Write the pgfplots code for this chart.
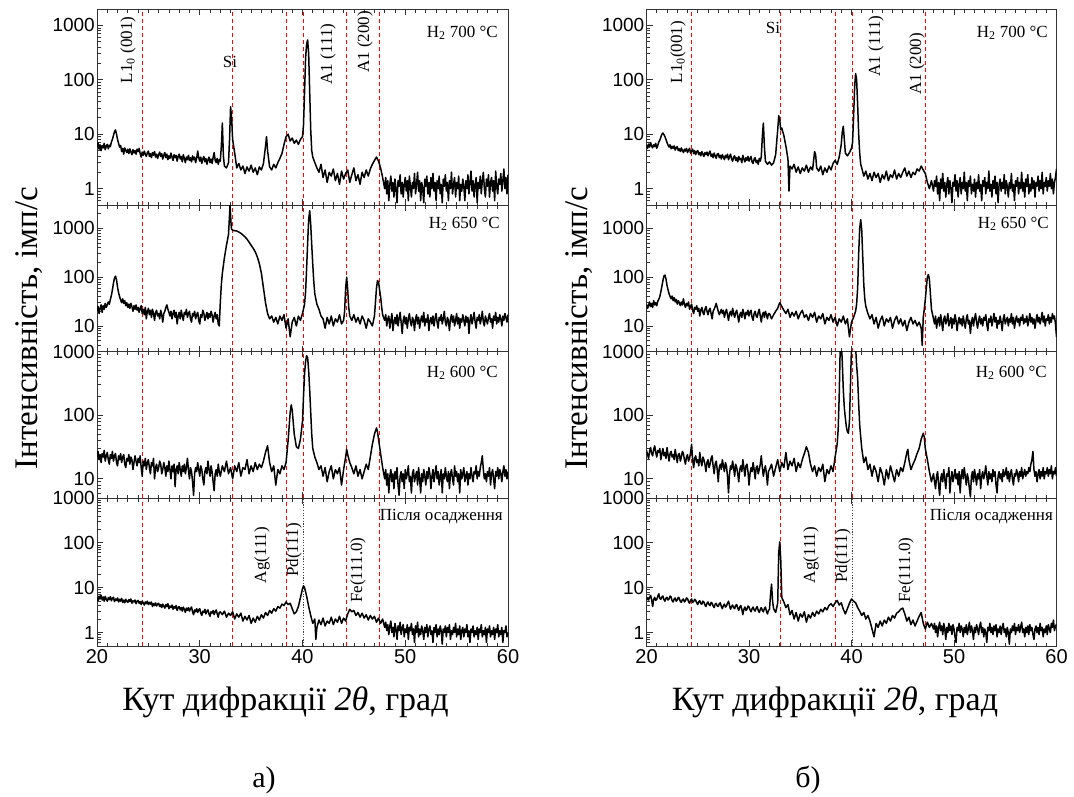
\documentclass[border=0pt]{standalone}
\usepackage{fontspec}
\setmainfont{Liberation Serif}
\newfontfamily\arial{Liberation Sans}
\usepackage{pgfplots}
\pgfplotsset{compat=1.18}
\pgfkeys{/pgf/number format/assume math mode=true}
\pgfplotsset{
 xrdbase/.style={
  scale only axis, xmin=20, xmax=60,
  axis line style={line width=1pt, black!80},
  xtick={20,30,40,50,60}, minor x tick num=9,
  xtick pos=both, ytick pos=left, tick align=inside,
  major tick length=6pt, minor tick length=3.5pt,
  every tick/.append style={black!80, line width=0.7pt},
  minor ytick={0.5,0.6,0.7,0.8,0.9,2,3,4,5,6,7,8,9,20,30,40,50,60,70,80,90,200,300,400,500,600,700,800,900,2000,3000},
  yticklabel style={font=\arial\fontsize{19}{19}\selectfont, inner xsep=2pt},
  xticklabel style={font=\arial\fontsize{20}{20}\selectfont},
  extra x tick style={grid=major, major tick length=0pt},
  major grid style={red, dash pattern=on 4pt off 3pt, line width=0.9pt},
 },
 xrdline/.style={black, line width=1.5pt, line join=round, mark=none},
 atL/.style={at={(97pt,#1)}, anchor=north west, width=411pt},
 atR/.style={at={(646.5pt,#1)}, anchor=north west, width=410pt},
 redL/.style={extra x ticks={24.4,33.15,38.4,40.1,44.3,47.5}, extra x tick labels={}},
 redLb/.style={extra x ticks={24.4,33.15,38.4,44.3,47.5}, extra x tick labels={}},
 redR/.style={extra x ticks={24.4,33.1,38.4,40.1,47.2}, extra x tick labels={}},
 redRb/.style={extra x ticks={24.4,33.1,38.4,47.2}, extra x tick labels={}},
 pnlA/.style={height=196pt, ymin=0.5, ymax=2000, ytick={1,10,100,1000}, yticklabels={1,10,100,1000}, xticklabels={}},
 pnlB/.style={height=146.5pt, ymin=3, ymax=3000, ytick={10,100,1000}, yticklabels={10,100,1000}, xticklabels={}},
 pnlC/.style={height=146.5pt, ymin=5, ymax=1000, ytick={10,100,1000}, yticklabels={10,100,1000}, xticklabels={}},
 pnlD/.style={height=148pt, ymin=0.5, ymax=1000, ytick={1,10,100,1000}, yticklabels={1,10,100,1000}, xticklabels={20,30,40,50,60}},
}
\begin{document}
\begin{tikzpicture}
\useasboundingbox (0pt,0pt) rectangle (1074pt,-796pt);
% ---------------- left column ----------------
\begin{axis}[ymode=log, xrdbase, atL=-9pt, redL, pnlA]
\addplot[xrdline] coordinates {(20.0,5.8)(20.1,6.9)(20.2,5.3)(20.3,6.4)(20.4,5.0)(20.5,6.2)(20.6,5.6)(20.7,6.8)(20.8,5.2)(20.9,6.0)(21.0,6.5)(21.1,5.4)(21.2,6.3)(21.3,5.9)(21.4,7.2)(21.5,8.0)(21.6,9.5)(21.7,11)(21.8,12)(21.9,10)(22.0,8.0)(22.1,6.8)(22.2,5.8)(22.3,6.2)(22.4,4.8)(22.5,5.5)(22.6,4.3)(22.7,5.6)(22.8,5.0)(22.9,4.6)(23.0,5.3)(23.1,4.4)(23.2,5.4)(23.3,4.7)(23.4,4.2)(23.5,5.2)(23.6,4.5)(23.7,5.0)(23.8,4.3)(23.9,5.3)(24.0,4.8)(24.1,5.5)(24.2,4.4)(24.3,3.8)(24.4,4.7)(24.5,4.1)(24.6,4.9)(24.7,4.3)(24.8,3.9)(24.9,4.6)(25.0,4.9)(25.1,3.9)(25.2,4.4)(25.3,3.7)(25.4,4.6)(25.5,4.1)(25.6,4.8)(25.7,3.8)(25.8,4.3)(25.9,3.6)(26.0,4.2)(26.1,4.7)(26.2,3.9)(26.3,4.4)(26.4,3.5)(26.5,4.1)(26.6,4.6)(26.7,3.7)(26.8,4.3)(26.9,3.4)(27.0,4.0)(27.1,3.6)(27.2,4.5)(27.3,3.8)(27.4,3.3)(27.5,4.2)(27.6,3.7)(27.7,4.1)(27.8,3.2)(27.9,3.9)(28.0,4.3)(28.1,3.5)(28.2,3.9)(28.3,3.1)(28.4,4.2)(28.5,3.6)(28.6,3.0)(28.7,3.8)(28.8,3.4)(28.9,4.1)(29.0,3.3)(29.1,3.7)(29.2,3.1)(29.3,4.0)(29.4,3.4)(29.5,3.8)(29.6,3.0)(29.7,3.6)(29.8,4.9)(29.9,3.7)(30.0,3.2)(30.1,3.8)(30.2,2.9)(30.3,3.5)(30.4,3.9)(30.5,3.1)(30.6,3.6)(30.7,2.8)(30.8,3.4)(30.9,3.8)(31.0,3.0)(31.1,3.5)(31.2,2.9)(31.3,3.7)(31.4,4.6)(31.5,3.3)(31.6,3.0)(31.7,3.6)(31.8,2.8)(31.9,3.4)(32.0,3.2)
(32.1,6)(32.2,16)(32.3,4)(32.4,2.6)(32.6,2.4)(32.8,3.0)(32.9,8)(33.0,32)(33.1,20)(33.2,8)(33.4,4.5)(33.6,2.4)(33.8,2.9)(34.0,2.2)(34.2,2.6)(34.4,1.9)(34.6,2.5)(34.8,2.1)(35.0,2.7)(35.2,2.0)(35.4,2.4)(35.6,1.8)(35.8,2.5)(36.0,2.2)(36.2,2.9)(36.4,6)(36.5,9)(36.6,5)(36.8,2.5)(37.0,2.2)(37.2,2.8)(37.4,2.4)(37.6,3.0)(37.8,3.6)(38.0,4.4)(38.2,6.5)(38.4,9)(38.6,10)(38.8,7.5)(39.0,8.5)(39.2,6.8)(39.4,7.8)(39.6,6.5)(39.8,8.0)(40.0,9)(40.1,15)(40.2,60)(40.3,250)(40.4,450)(40.5,540)(40.6,300)(40.7,60)(40.8,12)(40.9,5)(41.0,3.8)(41.2,3.0)(41.4,2.4)(41.6,2.0)(41.8,2.8)(42.0,1.6)(42.2,2.2)(42.4,1.3)(42.6,2.0)(42.8,1.7)(43.0,2.3)(43.2,1.4)(43.4,1.9)(43.6,1.2)(43.8,2.1)(44.0,1.5)(44.2,1.9)(44.4,2.2)(44.6,1.3)(44.8,1.8)(45.0,2.4)(45.2,1.4)(45.4,1.8)(45.6,1.2)(45.8,2.0)(46.0,1.6)(46.2,2.2)(46.4,1.7)(46.6,2.3)(46.8,2.8)(47.0,3.3)(47.2,3.8)(47.4,3.2)(47.6,2.4)(47.8,1.6)
(48.0,1.0)(48.1,1.6)(48.2,0.8)(48.3,1.4)(48.4,0.6)(48.5,1.2)(48.6,1.7)(48.7,0.9)(48.8,1.3)(48.9,0.7)(49.0,1.5)(49.1,1.0)(49.2,0.55)(49.3,1.4)(49.4,1.1)(49.5,1.8)(49.6,0.8)(49.7,1.3)(49.8,0.7)(49.9,1.2)(50.0,1.6)(50.1,0.9)(50.2,1.4)(50.3,0.6)(50.4,1.7)(50.5,1.1)(50.6,0.7)(50.7,1.3)(50.8,1.0)(50.9,1.9)(51.0,0.8)(51.1,1.2)(51.2,2.0)(51.3,0.9)(51.4,1.4)(51.5,0.6)(51.6,1.3)(51.7,1.0)(51.8,0.55)(51.9,1.5)(52.0,1.1)(52.1,1.7)(52.2,0.8)(52.3,1.3)(52.4,0.7)(52.5,1.6)(52.6,1.0)(52.7,1.9)(52.8,0.9)(52.9,1.3)(53.0,0.6)(53.1,1.4)(53.2,1.0)(53.3,1.7)(53.4,0.8)(53.5,1.2)(53.6,0.55)(53.7,1.5)(53.8,1.1)(53.9,1.8)(54.0,0.9)(54.1,1.3)(54.2,0.6)(54.3,1.4)(54.4,1.0)(54.5,2.0)(54.6,0.8)(54.7,1.2)(54.8,1.6)(54.9,0.7)(55.0,1.3)(55.1,1.0)(55.2,1.7)(55.3,0.6)(55.4,1.2)(55.5,0.9)(55.6,1.5)(55.7,1.1)(55.8,0.6)(55.9,1.4)(56.0,1.0)(56.1,1.8)(56.2,0.8)(56.3,1.3)(56.4,2.1)(56.5,0.9)(56.6,1.4)(56.7,0.7)(56.8,1.2)(56.9,1.6)(57.0,0.55)(57.1,1.3)(57.2,1.0)(57.3,1.7)(57.4,0.8)(57.5,1.4)(57.6,2.0)(57.7,1.0)(57.8,0.7)(57.9,1.5)(58.0,1.1)(58.1,1.8)(58.2,0.7)(58.3,1.3)(58.4,1.6)(58.5,0.9)(58.6,1.4)(58.7,0.6)(58.8,2.1)(58.9,1.1)(59.0,0.8)(59.1,1.5)(59.2,1.2)(59.3,1.9)(59.4,0.9)(59.5,1.4)(59.6,2.3)(59.7,1.0)(59.8,1.6)(59.9,0.8)(60.0,1.8)};
\end{axis}
\begin{axis}[ymode=log, xrdbase, atL=-205pt, redL, pnlB]
\addplot[xrdline] coordinates {(20.0,20)(20.1,25)(20.2,18)(20.3,23)(20.4,27)(20.5,19)(20.6,26)(20.7,22)(20.8,29)(20.9,24)(21.0,27)(21.1,31)(21.2,28)(21.3,35)(21.4,42)(21.5,55)(21.6,75)(21.7,95)(21.8,105)(21.9,88)(22.0,62)(22.1,48)(22.2,40)(22.3,34)(22.4,30)(22.5,36)(22.6,29)(22.7,33)(22.8,26)(22.9,30)(23.0,24)(23.1,28)(23.2,23)(23.3,29)(23.4,25)(23.5,20)(23.6,26)(23.7,22)(23.8,27)(23.9,21)(24.0,24)(24.1,19)(24.2,23)(24.3,26)(24.4,18)(24.5,22)(24.6,17)(24.7,24)(24.8,14)(24.9,20)(25.0,23)(25.1,17)(25.2,21)(25.3,15)(25.4,22)(25.5,18)(25.6,13)(25.7,19)(25.8,21)(25.9,16)(26.0,18)(26.1,14)(26.2,21)(26.3,17)(26.4,12)(26.5,18)(26.6,20)(26.7,24)(26.8,27)(26.9,22)(27.0,19)(27.1,16)(27.2,20)(27.3,14)(27.4,18)(27.5,21)(27.6,15)(27.7,19)(27.8,11)(27.9,16)(28.0,19)(28.1,14)(28.2,21)(28.3,16)(28.4,13)(28.5,19)(28.6,17)(28.7,22)(28.8,15)(28.9,18)(29.0,20)(29.1,14)(29.2,12)(29.3,18)(29.4,16)(29.5,20)(29.6,14)(29.7,17)(29.8,19)(29.9,13)(30.0,11)(30.1,17)(30.2,15)(30.3,21)(30.4,18)(30.5,13)(30.6,16)(30.7,19)(30.8,14)(30.9,18)(31.0,15)(31.1,20)(31.2,17)(31.3,12)(31.4,16)(31.5,19)(31.6,14)(31.7,17)(31.8,11)(31.9,10)
(32.0,30)(32.1,70)(32.2,120)(32.4,250)(32.6,450)(32.8,750)(32.95,3000)(33.05,1200)(33.1,950)(33.3,900)(33.6,880)(33.8,840)(34.0,790)(34.2,730)(34.4,670)(34.6,600)(34.8,520)(35.0,450)(35.2,390)(35.4,330)(35.6,260)(35.8,190)(36.0,120)(36.2,60)(36.4,30)(36.6,18)(36.8,14)(37.0,16)(37.2,12)(37.4,15)(37.6,11)(37.8,16)(38.0,13)(38.2,17)(38.4,9)(38.6,14)(38.8,6)(39.0,12)(39.2,15)(39.4,10)(39.6,16)(39.8,13)(40.0,18)(40.2,28)(40.3,50)(40.4,150)(40.5,500)(40.6,1500)(40.7,2300)(40.8,1200)(40.9,450)(41.0,180)(41.1,80)(41.2,45)(41.4,28)(41.6,22)(41.8,16)(42.0,14)(42.2,9)(42.4,15)(42.6,11)(42.8,16)(43.0,10)(43.2,14)(43.4,12)(43.6,17)(43.8,11)(44.0,13)(44.1,20)(44.2,60)(44.3,100)(44.4,55)(44.5,24)(44.6,16)(44.8,13)(45.0,17)(45.2,12)(45.4,15)(45.6,11)(45.8,16)(46.0,13)(46.2,9)(46.4,14)(46.6,12)(46.8,10)(47.0,16)(47.1,30)(47.2,60)(47.3,85)(47.4,80)(47.5,55)(47.6,40)(47.7,25)(47.8,17)
(48.0,13)(48.1,17)(48.2,10)(48.3,14)(48.4,16)(48.5,9)(48.6,13)(48.7,18)(48.8,8)(48.9,12)(49.0,15)(49.1,11)(49.2,17)(49.3,10)(49.4,14)(49.5,19)(49.6,12)(49.7,7)(49.8,13)(49.9,16)(50.0,11)(50.1,15)(50.2,9)(50.3,14)(50.4,18)(50.5,12)(50.6,10)(50.7,15)(50.8,13)(50.9,8)(51.0,14)(51.1,17)(51.2,11)(51.3,15)(51.4,9)(51.5,13)(51.6,16)(51.7,12)(51.8,19)(51.9,10)(52.0,14)(52.1,12)(52.2,17)(52.3,8)(52.4,13)(52.5,15)(52.6,11)(52.7,16)(52.8,10)(52.9,14)(53.0,18)(53.1,12)(53.2,9)(53.3,15)(53.4,13)(53.5,17)(53.6,11)(53.7,14)(53.8,20)(53.9,12)(54.0,10)(54.1,15)(54.2,13)(54.3,8)(54.4,14)(54.5,17)(54.6,12)(54.7,16)(54.8,10)(54.9,13)(55.0,18)(55.1,11)(55.2,15)(55.3,9)(55.4,14)(55.5,12)(55.6,17)(55.7,13)(55.8,10)(55.9,16)(56.0,12)(56.1,15)(56.2,7)(56.3,13)(56.4,17)(56.5,11)(56.6,14)(56.7,19)(56.8,12)(56.9,9)(57.0,15)(57.1,13)(57.2,17)(57.3,11)(57.4,14)(57.5,20)(57.6,12)(57.7,10)(57.8,16)(57.9,13)(58.0,11)(58.1,15)(58.2,18)(58.3,12)(58.4,14)(58.5,9)(58.6,16)(58.7,13)(58.8,19)(58.9,11)(59.0,15)(59.1,12)(59.2,17)(59.3,14)(59.4,10)(59.5,16)(59.6,13)(59.7,18)(59.8,15)(59.9,12)(60.0,17)};
\end{axis}
\begin{axis}[ymode=log, xrdbase, atL=-351.5pt, redL, pnlC]
\addplot[xrdline] coordinates {(20.0,22)(20.1,27)(20.2,20)(20.3,24)(20.4,18)(20.5,25)(20.6,22)(20.7,28)(20.8,19)(20.9,23)(21.0,26)(21.1,20)(21.2,17)(21.3,24)(21.4,21)(21.5,27)(21.6,19)(21.7,23)(21.8,25)(21.9,18)(22.0,16)(22.1,23)(22.2,20)(22.3,25)(22.4,18)(22.5,22)(22.6,24)(22.7,17)(22.8,15)(22.9,21)(23.0,19)(23.1,24)(23.2,17)(23.3,22)(23.4,20)(23.5,14)(23.6,18)(23.7,23)(23.8,19)(23.9,16)(24.0,21)(24.1,18)(24.2,23)(24.3,15)(24.4,11)(24.5,19)(24.6,16)(24.7,21)(24.8,14)(24.9,18)(25.0,20)(25.1,15)(25.2,12)(25.3,18)(25.4,16)(25.5,21)(25.6,10)(25.7,15)(25.8,17)(25.9,13)(26.0,15)(26.1,19)(26.2,17)(26.3,12)(26.4,14)(26.5,18)(26.6,15)(26.7,11)(26.8,16)(26.9,13)(27.0,19)(27.1,14)(27.2,10)(27.3,16)(27.4,13)(27.5,17)(27.6,7.5)(27.7,14)(27.8,16)(27.9,12)(28.0,18)(28.1,14)(28.2,11)(28.3,16)(28.4,13)(28.5,17)(28.6,12)(28.7,15)(28.8,21)(28.9,14)(29.0,10)(29.1,15)(29.2,13)(29.3,9)(29.4,5.5)(29.5,12)(29.6,15)(29.7,13)(29.8,18)(29.9,14)(30.0,11)(30.1,16)(30.2,14)(30.3,10)(30.4,8)(30.5,13)(30.6,15)(30.7,12)(30.8,19)(30.9,14)(31.0,11)(31.1,16)(31.2,13)(31.3,9)(31.4,6.5)(31.5,12)(31.6,14)(31.7,11)(31.8,17)(31.9,13)
(32.0,11)(32.2,16)(32.4,13)(32.6,19)(32.8,12)(33.0,15)(33.2,10)(33.4,16)(33.6,13)(33.8,18)(34.0,11)(34.2,15)(34.4,14)(34.6,20)(34.8,12)(35.0,16)(35.2,13)(35.4,18)(35.6,14)(35.8,17)(36.0,15)(36.2,19)(36.4,26)(36.6,33)(36.8,18)(37.0,13)(37.2,16)(37.4,8)(37.6,14)(37.8,12)(38.0,16)(38.2,14)(38.4,18)(38.6,40)(38.8,110)(38.9,145)(39.0,120)(39.2,50)(39.4,32)(39.6,30)(39.8,42)(40.0,80)(40.1,200)(40.2,450)(40.3,700)(40.4,860)(40.5,800)(40.6,500)(40.7,250)(40.8,110)(40.9,50)(41.0,30)(41.2,22)(41.4,18)(41.6,14)(41.8,16)(42.0,11)(42.2,15)(42.4,9)(42.6,13)(42.8,16)(43.0,10)(43.2,14)(43.4,12)(43.6,15)(43.8,8)(44.0,14)(44.2,22)(44.3,29)(44.4,24)(44.6,18)(44.8,15)(45.0,12)(45.2,16)(45.4,11)(45.6,14)(45.8,10)(46.0,13)(46.2,17)(46.4,14)(46.6,22)(46.8,35)(47.0,50)(47.2,63)(47.3,55)(47.4,42)(47.6,25)(47.8,15)
(48.0,10)(48.1,14)(48.2,8)(48.3,12)(48.4,6)(48.5,11)(48.6,14)(48.7,9)(48.8,12)(48.9,7)(49.0,13)(49.1,10)(49.2,15)(49.3,8)(49.4,5.5)(49.5,11)(49.6,13)(49.7,9)(49.8,12)(49.9,7)(50.0,14)(50.1,10)(50.2,12)(50.3,16)(50.4,9)(50.5,11)(50.6,6)(50.7,12)(50.8,14)(50.9,9)(51.0,11)(51.1,13)(51.2,8)(51.3,15)(51.4,10)(51.5,6)(51.6,12)(51.7,9)(51.8,14)(51.9,11)(52.0,8)(52.1,13)(52.2,10)(52.3,15)(52.4,12)(52.5,7)(52.6,11)(52.7,14)(52.8,9)(52.9,12)(53.0,16)(53.1,10)(53.2,13)(53.3,8)(53.4,11)(53.5,14)(53.6,6)(53.7,12)(53.8,10)(53.9,15)(54.0,11)(54.1,9)(54.2,13)(54.3,7)(54.4,12)(54.5,14)(54.6,10)(54.7,8)(54.8,16)(54.9,11)(55.0,13)(55.1,9)(55.2,12)(55.3,6)(55.4,14)(55.5,10)(55.6,12)(55.7,15)(55.8,9)(55.9,11)(56.0,13)(56.1,8)(56.2,12)(56.3,10)(56.4,15)(56.5,11)(56.6,9)(56.7,13)(56.8,12)(56.9,16)(57.0,10)(57.1,13)(57.2,11)(57.3,15)(57.4,18)(57.5,23)(57.6,14)(57.7,10)(57.8,12)(57.9,9)(58.0,13)(58.1,11)(58.2,15)(58.3,8)(58.4,12)(58.5,14)(58.6,10)(58.7,7)(58.8,13)(58.9,11)(59.0,15)(59.1,10)(59.2,14)(59.3,12)(59.4,9)(59.5,13)(59.6,16)(59.7,11)(59.8,14)(59.9,10)(60.0,13)};
\end{axis}
\begin{axis}[ymode=log, xrdbase, atL=-498pt, redLb, pnlD]
\draw[black!75, dash pattern=on 1.2pt off 1.5pt, line width=1pt] (axis cs:40.1,0.5) -- (axis cs:40.1,1000);
\addplot[xrdline] coordinates {(20.0,6.0)(20.1,5.1)(20.2,6.5)(20.3,5.6)(20.4,6.8)(20.5,5.3)(20.6,6.2)(20.7,5.0)(20.8,6.4)(20.9,5.5)(21.0,5.0)(21.1,6.0)(21.2,5.4)(21.3,6.3)(21.4,5.1)(21.5,5.8)(21.6,6.1)(21.7,4.9)(21.8,5.6)(21.9,5.2)(22.0,5.9)(22.1,4.8)(22.2,5.5)(22.3,5.0)(22.4,5.8)(22.5,4.7)(22.6,5.3)(22.7,4.6)(22.8,5.5)(22.9,5.0)(23.0,4.7)(23.1,5.4)(23.2,4.9)(23.3,5.6)(23.4,4.5)(23.5,5.1)(23.6,4.8)(23.7,5.3)(23.8,4.4)(23.9,5.0)(24.0,5.2)(24.1,4.5)(24.2,4.9)(24.3,4.2)(24.4,5.0)(24.5,4.6)(24.6,4.1)(24.7,4.8)(24.8,4.4)(24.9,5.0)(25.0,4.2)(25.1,4.7)(25.2,4.3)(25.3,4.8)(25.4,3.8)(25.5,4.4)(25.6,4.0)(25.7,4.6)(25.8,3.9)(25.9,4.3)(26.0,4.5)(26.1,3.8)(26.2,4.2)(26.3,3.6)(26.4,4.3)(26.5,3.9)(26.6,3.5)(26.7,4.2)(26.8,3.8)(26.9,4.4)(27.0,3.4)(27.1,3.9)(27.2,3.6)(27.3,4.1)(27.4,3.3)(27.5,3.8)(27.6,3.5)(27.7,4.0)(27.8,3.1)(27.9,3.6)(28.0,3.8)(28.1,3.2)(28.2,3.6)(28.3,3.0)(28.4,3.7)(28.5,3.3)(28.6,2.8)(28.7,3.5)(28.8,3.1)(28.9,3.6)(29.0,3.0)(29.1,3.4)(29.2,3.7)(29.3,2.9)(29.4,2.5)(29.5,3.2)(29.6,2.9)(29.7,3.4)(29.8,2.8)(29.9,3.2)(30.0,3.4)(30.1,2.7)(30.2,2.4)(30.3,3.0)(30.4,2.8)(30.5,3.3)(30.6,2.6)(30.7,3.0)(30.8,3.2)(30.9,2.6)(31.0,2.3)(31.1,2.9)(31.2,2.7)(31.3,3.1)(31.4,2.5)(31.5,2.9)(31.6,3.2)(31.7,2.6)(31.8,2.2)(31.9,2.8)
(32.0,2.9)(32.2,2.5)(32.4,3.0)(32.6,2.2)(32.8,2.7)(33.0,2.4)(33.2,2.9)(33.4,2.0)(33.6,2.6)(33.8,2.2)(34.0,2.7)(34.2,1.8)(34.4,2.3)(34.6,1.9)(34.8,2.4)(35.0,1.6)(35.2,2.1)(35.4,1.7)(35.6,2.3)(35.8,1.9)(36.0,2.5)(36.2,2.1)(36.4,2.8)(36.6,2.4)(36.8,3.1)(37.0,2.7)(37.2,3.4)(37.4,3.0)(37.6,3.8)(37.8,3.5)(38.0,4.3)(38.2,4.0)(38.4,4.8)(38.6,4.2)(38.8,4.5)(39.0,3.4)(39.2,2.6)(39.4,2.9)(39.6,3.8)(39.8,6.0)(40.0,9.5)(40.1,11)(40.2,10)(40.4,6.5)(40.6,3.8)(40.8,2.4)(41.0,1.6)(41.2,2.0)(41.3,0.7)(41.4,1.3)(41.6,1.9)(41.8,1.5)(42.0,2.1)(42.2,1.4)(42.4,1.8)(42.6,1.6)(42.8,2.2)(43.0,1.5)(43.2,2.0)(43.4,1.7)(43.6,2.3)(43.8,1.6)(44.0,2.1)(44.2,1.8)(44.4,2.6)(44.6,3.3)(44.8,2.9)(45.0,3.1)(45.2,2.4)(45.4,2.8)(45.6,2.2)(45.8,2.7)(46.0,2.1)(46.2,2.5)(46.4,1.9)(46.6,2.4)(46.8,2.0)(47.0,2.3)(47.2,1.7)(47.4,2.1)(47.6,1.6)(47.8,2.0)
(48.0,1.3)(48.1,1.7)(48.2,1.1)(48.3,1.5)(48.4,0.9)(48.5,1.4)(48.6,1.8)(48.7,1.0)(48.8,1.3)(48.9,0.8)(49.0,1.6)(49.1,1.2)(49.2,0.7)(49.3,1.4)(49.4,1.1)(49.5,1.7)(49.6,0.9)(49.7,1.3)(49.8,1.5)(49.9,0.8)(50.0,1.2)(50.1,1.0)(50.2,1.5)(50.3,0.7)(50.4,1.3)(50.5,1.1)(50.6,1.6)(50.7,0.9)(50.8,1.2)(50.9,0.6)(51.0,1.4)(51.1,1.0)(51.2,1.7)(51.3,0.8)(51.4,1.2)(51.5,0.9)(51.6,1.4)(51.7,1.1)(51.8,0.7)(51.9,1.3)(52.0,1.0)(52.1,1.5)(52.2,0.8)(52.3,1.2)(52.4,1.4)(52.5,0.9)(52.6,1.1)(52.7,0.6)(52.8,1.3)(52.9,1.0)(53.0,1.5)(53.1,0.8)(53.2,1.2)(53.3,0.9)(53.4,1.4)(53.5,1.1)(53.6,0.55)(53.7,1.2)(53.8,1.0)(53.9,1.4)(54.0,0.8)(54.1,1.3)(54.2,1.0)(54.3,1.5)(54.4,0.7)(54.5,1.1)(54.6,0.9)(54.7,1.3)(54.8,1.0)(54.9,1.6)(55.0,0.8)(55.1,1.2)(55.2,0.9)(55.3,1.4)(55.4,0.7)(55.5,1.1)(55.6,1.3)(55.7,0.8)(55.8,1.2)(55.9,1.0)(56.0,1.5)(56.1,0.8)(56.2,1.1)(56.3,0.6)(56.4,1.2)(56.5,1.0)(56.6,1.4)(56.7,0.8)(56.8,1.1)(56.9,0.9)(57.0,1.3)(57.1,0.7)(57.2,1.2)(57.3,1.0)(57.4,1.5)(57.5,0.8)(57.6,1.1)(57.7,0.9)(57.8,1.3)(57.9,0.6)(58.0,1.2)(58.1,1.0)(58.2,1.4)(58.3,0.8)(58.4,1.1)(58.5,0.9)(58.6,1.3)(58.7,0.7)(58.8,1.2)(58.9,1.0)(59.0,1.5)(59.1,0.8)(59.2,1.1)(59.3,0.9)(59.4,1.3)(59.5,0.6)(59.6,1.1)(59.7,1.0)(59.8,1.4)(59.9,0.8)(60.0,1.0)};
\end{axis}
% ---------------- right column ----------------
\begin{axis}[ymode=log, xrdbase, atR=-9pt, redR, pnlA]
\addplot[xrdline] coordinates {(20.0,6.3)(20.1,5.5)(20.2,6.6)(20.3,5.8)(20.4,7.0)(20.5,6.1)(20.6,5.6)(20.7,6.4)(20.8,5.9)(20.9,6.8)(21.0,5.5)(21.1,6.2)(21.2,7.2)(21.3,7.8)(21.4,8.8)(21.5,10)(21.6,10.5)(21.7,9.8)(21.8,9.0)(21.9,8.0)(22.0,7.0)(22.1,6.3)(22.2,5.8)(22.3,6.4)(22.4,5.4)(22.5,6.0)(22.6,5.5)(22.7,6.1)(22.8,5.1)(22.9,5.7)(23.0,5.9)(23.1,5.0)(23.2,5.4)(23.3,4.8)(23.4,5.6)(23.5,5.0)(23.6,4.6)(23.7,5.3)(23.8,4.9)(23.9,5.5)(24.0,4.6)(24.1,5.1)(24.2,5.5)(24.3,4.5)(24.4,4.9)(24.5,5.3)(24.6,4.4)(24.7,5.0)(24.8,4.2)(24.9,4.8)(25.0,5.0)(25.1,4.2)(25.2,4.6)(25.3,4.0)(25.4,4.8)(25.5,4.3)(25.6,3.9)(25.7,4.6)(25.8,4.2)(25.9,4.7)(26.0,4.0)(26.1,4.5)(26.2,4.9)(26.3,3.9)(26.4,4.3)(26.5,3.7)(26.6,4.5)(26.7,4.0)(26.8,3.6)(26.9,4.3)(27.0,4.4)(27.1,3.7)(27.2,4.1)(27.3,3.5)(27.4,4.2)(27.5,3.8)(27.6,3.4)(27.7,4.1)(27.8,3.7)(27.9,4.3)(28.0,3.4)(28.1,3.9)(28.2,4.3)(28.3,3.5)(28.4,3.2)(28.5,3.8)(28.6,4.0)(28.7,3.3)(28.8,3.7)(28.9,3.1)(29.0,3.9)(29.1,3.4)(29.2,3.6)(29.3,3.0)(29.4,4.1)(29.5,3.5)(29.6,3.1)(29.7,3.7)(29.8,3.3)(29.9,3.9)(30.0,3.2)(30.1,3.6)(30.2,3.9)(30.3,3.1)(30.4,2.9)(30.5,3.5)(30.6,3.7)(30.7,3.0)(30.8,3.3)(30.9,2.8)(31.0,3.6)(31.1,3.2)(31.2,3.9)
(31.3,9)(31.4,16)(31.5,6)(31.6,3.2)(31.8,2.8)(32.0,3.1)(32.2,2.7)(32.4,3.0)(32.6,4.2)(32.8,12)(32.9,22)(33.0,18)(33.1,12)(33.2,13)(33.3,11)(33.4,9.5)(33.6,6.0)(33.8,3.5)(33.9,0.9)(34.0,2.6)(34.2,2.3)(34.4,2.8)(34.6,2.0)(34.8,2.5)(35.0,1.9)(35.2,2.4)(35.4,2.1)(35.6,2.7)(35.8,2.0)(36.0,2.5)(36.2,2.2)(36.4,4.8)(36.5,4.2)(36.6,2.4)(36.8,2.1)(37.0,2.6)(37.2,1.8)(37.4,2.4)(37.6,2.0)(37.8,2.6)(38.0,2.2)(38.2,2.9)(38.4,3.3)(38.6,2.8)(38.8,3.8)(39.0,6.5)(39.1,11)(39.2,14)(39.3,8)(39.4,4.5)(39.6,4.0)(39.8,4.6)(40.0,5.5)(40.1,7)(40.2,20)(40.3,70)(40.4,130)(40.5,100)(40.6,35)(40.7,10)(40.8,4.5)(40.9,2.8)(41.0,2.4)(41.2,1.7)(41.4,2.1)(41.6,1.5)(41.8,1.9)(42.0,1.4)(42.2,2.0)(42.4,1.6)(42.6,1.9)(42.8,1.3)(43.0,1.8)(43.2,1.5)(43.4,2.1)(43.6,1.4)(43.8,1.8)(44.0,1.6)(44.2,2.2)(44.4,1.5)(44.6,1.9)(44.8,1.6)(45.0,2.0)(45.2,2.4)(45.4,1.7)(45.6,2.1)(45.8,1.6)(46.0,2.0)(46.2,1.8)(46.4,2.3)(46.6,2.1)(46.8,2.6)(47.0,2.2)(47.2,1.9)(47.4,1.3)(47.6,1.0)(47.8,1.4)
(48.0,0.9)(48.1,1.4)(48.2,1.1)(48.3,1.7)(48.4,0.8)(48.5,1.3)(48.6,0.6)(48.7,1.5)(48.8,1.0)(48.9,1.9)(49.0,0.9)(49.1,1.3)(49.2,0.7)(49.3,1.2)(49.4,1.6)(49.5,0.8)(49.6,1.4)(49.7,1.0)(49.8,0.55)(49.9,1.3)(50.0,1.1)(50.1,1.8)(50.2,0.9)(50.3,1.4)(50.4,0.7)(50.5,1.2)(50.6,1.6)(50.7,0.8)(50.8,1.3)(50.9,1.0)(51.0,2.0)(51.1,0.9)(51.2,1.3)(51.3,0.6)(51.4,1.4)(51.5,1.1)(51.6,1.7)(51.7,0.8)(51.8,1.2)(51.9,0.9)(52.0,1.5)(52.1,0.7)(52.2,1.3)(52.3,1.0)(52.4,1.8)(52.5,0.9)(52.6,1.2)(52.7,0.6)(52.8,1.4)(52.9,1.1)(53.0,1.6)(53.1,0.8)(53.2,1.3)(53.3,1.0)(53.4,2.1)(53.5,0.9)(53.6,1.2)(53.7,0.7)(53.8,1.4)(53.9,1.0)(54.0,1.7)(54.1,0.8)(54.2,1.3)(54.3,0.55)(54.4,1.2)(54.5,1.5)(54.6,0.9)(54.7,1.3)(54.8,1.0)(54.9,1.8)(55.0,0.8)(55.1,1.4)(55.2,1.1)(55.3,0.7)(55.4,1.3)(55.5,1.0)(55.6,1.9)(55.7,0.9)(55.8,1.2)(55.9,0.6)(56.0,1.4)(56.1,1.1)(56.2,1.6)(56.3,0.8)(56.4,1.3)(56.5,1.0)(56.6,2.0)(56.7,0.9)(56.8,1.3)(56.9,0.7)(57.0,1.5)(57.1,1.1)(57.2,1.8)(57.3,0.8)(57.4,1.2)(57.5,0.9)(57.6,1.6)(57.7,1.0)(57.8,1.4)(57.9,0.7)(58.0,1.3)(58.1,1.1)(58.2,1.7)(58.3,0.9)(58.4,1.4)(58.5,1.0)(58.6,2.0)(58.7,0.8)(58.8,1.3)(58.9,1.1)(59.0,1.6)(59.1,0.9)(59.2,1.4)(59.3,1.1)(59.4,1.9)(59.5,1.0)(59.6,1.5)(59.7,0.8)(59.8,1.3)(59.9,1.6)(60.0,2.3)};
\end{axis}
\begin{axis}[ymode=log, xrdbase, atR=-205pt, redR, pnlB]
\addplot[xrdline] coordinates {(20.0,28)(20.1,23)(20.2,26)(20.3,31)(20.4,25)(20.5,29)(20.6,24)(20.7,33)(20.8,27)(20.9,30)(21.0,26)(21.1,32)(21.2,35)(21.3,40)(21.4,50)(21.5,65)(21.6,85)(21.7,105)(21.8,110)(21.9,92)(22.0,68)(22.1,55)(22.2,46)(22.3,40)(22.4,36)(22.5,41)(22.6,33)(22.7,38)(22.8,31)(22.9,35)(23.0,28)(23.1,33)(23.2,30)(23.3,26)(23.4,31)(23.5,27)(23.6,36)(23.7,28)(23.8,24)(23.9,29)(24.0,26)(24.1,31)(24.2,22)(24.3,25)(24.4,28)(24.5,21)(24.6,18)(24.7,24)(24.8,22)(24.9,26)(25.0,20)(25.1,23)(25.2,16)(25.3,21)(25.4,24)(25.5,19)(25.6,17)(25.7,22)(25.8,25)(25.9,20)(26.0,17)(26.1,21)(26.2,23)(26.3,18)(26.4,14)(26.5,20)(26.6,22)(26.7,25)(26.8,29)(26.9,24)(27.0,20)(27.1,17)(27.2,19)(27.3,22)(27.4,18)(27.5,21)(27.6,15)(27.7,19)(27.8,22)(27.9,17)(28.0,13)(28.1,18)(28.2,20)(28.3,16)(28.4,23)(28.5,18)(28.6,15)(28.7,19)(28.8,21)(28.9,16)(29.0,12)(29.1,17)(29.2,19)(29.3,15)(29.4,22)(29.5,18)(29.6,14)(29.7,19)(29.8,17)(29.9,21)(30.0,16)(30.1,19)(30.2,21)(30.3,15)(30.4,13)(30.5,18)(30.6,20)(30.7,16)(30.8,15)(30.9,19)(31.0,22)(31.1,16)(31.2,12)(31.3,17)(31.4,19)(31.5,15)(31.6,20)(31.7,17)(31.8,14)(31.9,18)
(32.0,18)(32.2,14)(32.4,17)(32.6,20)(32.8,23)(33.0,30)(33.2,25)(33.4,21)(33.6,18)(33.8,22)(34.0,15)(34.2,19)(34.4,16)(34.6,20)(34.8,14)(35.0,18)(35.2,21)(35.4,15)(35.6,17)(35.8,13)(36.0,18)(36.2,15)(36.4,19)(36.6,12)(36.8,16)(37.0,14)(37.2,18)(37.4,11)(37.6,15)(37.8,13)(38.0,17)(38.2,12)(38.4,15)(38.6,10)(38.8,14)(39.0,12)(39.2,16)(39.4,11)(39.6,14)(39.8,6)(40.0,12)(40.2,15)(40.4,20)(40.5,28)(40.6,60)(40.7,300)(40.8,1000)(40.9,1500)(41.0,900)(41.1,250)(41.2,70)(41.3,35)(41.4,25)(41.6,18)(41.8,14)(42.0,17)(42.2,11)(42.4,15)(42.6,9)(42.8,13)(43.0,16)(43.2,10)(43.4,14)(43.6,12)(43.8,15)(44.0,9)(44.2,13)(44.4,16)(44.6,11)(44.8,14)(45.0,10)(45.2,13)(45.4,8)(45.6,12)(45.8,15)(46.0,11)(46.2,13)(46.4,10)(46.6,12)(46.8,9)(46.9,4)(47.0,15)(47.1,22)(47.2,35)(47.3,60)(47.4,100)(47.5,113)(47.6,90)(47.7,45)(47.8,22)
(48.0,14)(48.1,11)(48.2,16)(48.3,9)(48.4,13)(48.5,15)(48.6,10)(48.7,17)(48.8,12)(48.9,8)(49.0,14)(49.1,16)(49.2,11)(49.3,13)(49.4,18)(49.5,10)(49.6,12)(49.7,15)(49.8,9)(49.9,14)(50.0,11)(50.1,17)(50.2,13)(50.3,8)(50.4,12)(50.5,15)(50.6,11)(50.7,14)(50.8,10)(50.9,16)(51.0,12)(51.1,9)(51.2,14)(51.3,17)(51.4,11)(51.5,13)(51.6,7)(51.7,12)(51.8,15)(51.9,10)(52.0,14)(52.1,18)(52.2,12)(52.3,9)(52.4,13)(52.5,16)(52.6,11)(52.7,14)(52.8,10)(52.9,15)(53.0,13)(53.1,17)(53.2,11)(53.3,8)(53.4,14)(53.5,12)(53.6,16)(53.7,10)(53.8,13)(53.9,18)(54.0,12)(54.1,15)(54.2,9)(54.3,13)(54.4,11)(54.5,16)(54.6,12)(54.7,8)(54.8,14)(54.9,17)(55.0,11)(55.1,13)(55.2,15)(55.3,10)(55.4,14)(55.5,12)(55.6,18)(55.7,11)(55.8,15)(55.9,9)(56.0,13)(56.1,16)(56.2,12)(56.3,14)(56.4,10)(56.5,15)(56.6,13)(56.7,17)(56.8,11)(56.9,14)(57.0,12)(57.1,16)(57.2,10)(57.3,13)(57.4,18)(57.5,12)(57.6,15)(57.7,11)(57.8,14)(57.9,9)(58.0,13)(58.1,17)(58.2,12)(58.3,15)(58.4,11)(58.5,14)(58.6,19)(58.7,12)(58.8,16)(58.9,10)(59.0,14)(59.1,13)(59.2,17)(59.3,11)(59.4,15)(59.5,12)(59.6,18)(59.7,14)(59.8,16)(59.9,11)(60.0,6)};
\end{axis}
\begin{axis}[ymode=log, xrdbase, atR=-351.5pt, redR, pnlC]
\addplot[xrdline] coordinates {(20.0,28)(20.1,24)(20.2,21)(20.3,27)(20.4,31)(20.5,25)(20.6,23)(20.7,29)(20.8,33)(20.9,26)(21.0,22)(21.1,28)(21.2,26)(21.3,30)(21.4,20)(21.5,25)(21.6,30)(21.7,23)(21.8,26)(21.9,21)(22.0,31)(22.1,24)(22.2,19)(22.3,25)(22.4,27)(22.5,22)(22.6,24)(22.7,20)(22.8,29)(22.9,23)(23.0,18)(23.1,24)(23.2,25)(23.3,19)(23.4,22)(23.5,27)(23.6,25)(23.7,20)(23.8,17)(23.9,22)(24.0,24)(24.1,19)(24.2,21)(24.3,26)(24.4,35)(24.5,20)(24.6,15)(24.7,21)(24.8,23)(24.9,18)(25.0,20)(25.1,16)(25.2,26)(25.3,19)(25.4,16)(25.5,22)(25.6,20)(25.7,17)(25.8,13)(25.9,18)(26.0,20)(26.1,15)(26.2,17)(26.3,21)(26.4,23)(26.5,16)(26.6,12)(26.7,17)(26.8,19)(26.9,14)(27.0,9)(27.1,15)(27.2,17)(27.3,14)(27.4,20)(27.5,16)(27.6,13)(27.7,18)(27.8,16)(27.9,11)(28.0,6)(28.1,12)(28.2,16)(28.3,14)(28.4,19)(28.5,15)(28.6,11)(28.7,17)(28.8,15)(28.9,12)(29.0,9)(29.1,14)(29.2,16)(29.3,13)(29.4,20)(29.5,15)(29.6,11)(29.7,16)(29.8,17)(29.9,13)(30.0,8)(30.1,12)(30.2,15)(30.3,13)(30.4,18)(30.5,14)(30.6,10)(30.7,15)(30.8,16)(30.9,12)(31.0,14)(31.1,17)(31.2,23)(31.3,15)(31.4,11)(31.5,14)(31.6,16)(31.7,12)(31.8,8)(31.9,13)
(32.0,14)(32.2,17)(32.4,11)(32.6,15)(32.8,20)(33.0,13)(33.2,18)(33.4,15)(33.6,26)(33.8,14)(34.0,19)(34.2,16)(34.4,21)(34.6,13)(34.8,18)(35.0,15)(35.2,20)(35.4,25)(35.6,32)(35.8,26)(36.0,17)(36.2,13)(36.4,16)(36.6,11)(36.8,15)(37.0,13)(37.2,17)(37.4,9)(37.6,14)(37.8,12)(38.0,16)(38.2,13)(38.4,22)(38.6,35)(38.7,60)(38.8,200)(38.9,1200)(39.0,1500)(39.1,700)(39.2,250)(39.3,130)(39.4,90)(39.5,65)(39.6,55)(39.7,52)(39.8,80)(39.9,300)(40.0,1200)(40.1,2500)(40.2,3000)(40.3,2500)(40.4,1200)(40.5,600)(40.6,380)(40.7,150)(40.8,70)(40.9,45)(41.0,30)(41.2,18)(41.4,22)(41.6,14)(41.8,17)(42.0,11)(42.2,16)(42.4,13)(42.6,9)(42.8,15)(43.0,12)(43.2,8)(43.4,14)(43.6,10)(43.8,16)(44.0,12)(44.2,9)(44.4,14)(44.6,11)(44.8,15)(45.0,13)(45.2,18)(45.4,26)(45.5,29)(45.6,20)(45.8,14)(46.0,17)(46.2,20)(46.4,25)(46.6,30)(46.8,42)(47.0,52)(47.1,45)(47.2,30)(47.4,20)(47.6,13)(47.8,9)
(48.0,12)(48.1,9)(48.2,7)(48.3,11)(48.4,13)(48.5,8)(48.6,5.5)(48.7,10)(48.8,12)(48.9,9)(49.0,14)(49.1,10)(49.2,7)(49.3,12)(49.4,11)(49.5,15)(49.6,6)(49.7,10)(49.8,13)(49.9,9)(50.0,11)(50.1,14)(50.2,10)(50.3,12)(50.4,8)(50.5,13)(50.6,6)(50.7,11)(50.8,14)(50.9,10)(51.0,15)(51.1,11)(51.2,8)(51.3,12)(51.4,10)(51.5,7)(51.6,5.2)(51.7,11)(51.8,13)(51.9,9)(52.0,14)(52.1,11)(52.2,8)(52.3,12)(52.4,10)(52.5,14)(52.6,7)(52.7,11)(52.8,13)(52.9,10)(53.0,12)(53.1,16)(53.2,11)(53.3,8)(53.4,13)(53.5,10)(53.6,12)(53.7,9)(53.8,14)(53.9,11)(54.0,13)(54.1,8)(54.2,6)(54.3,11)(54.4,13)(54.5,10)(54.6,12)(54.7,9)(54.8,14)(54.9,11)(55.0,12)(55.1,15)(55.2,10)(55.3,13)(55.4,9)(55.5,12)(55.6,14)(55.7,10)(55.8,8)(55.9,12)(56.0,11)(56.1,14)(56.2,12)(56.3,9)(56.4,13)(56.5,11)(56.6,15)(56.7,10)(56.8,12)(56.9,14)(57.0,11)(57.1,13)(57.2,12)(57.3,15)(57.4,13)(57.5,17)(57.6,20)(57.7,27)(57.8,14)(57.9,11)(58.0,13)(58.1,9)(58.2,12)(58.3,14)(58.4,10)(58.5,13)(58.6,11)(58.7,15)(58.8,10)(58.9,13)(59.0,12)(59.1,15)(59.2,11)(59.3,14)(59.4,12)(59.5,16)(59.6,10)(59.7,13)(59.8,12)(59.9,15)(60.0,11)};
\end{axis}
\begin{axis}[ymode=log, xrdbase, atR=-498pt, redRb, pnlD]
\draw[black!75, dash pattern=on 1.2pt off 1.5pt, line width=1pt] (axis cs:40.1,0.5) -- (axis cs:40.1,1000);
\addplot[xrdline] coordinates {(20.0,6.2)(20.1,5.6)(20.2,5.3)(20.3,6.1)(20.4,6.7)(20.5,5.4)(20.6,3.8)(20.7,5.5)(20.8,6.1)(20.9,5.2)(21.0,5.5)(21.1,6.4)(21.2,7.3)(21.3,5.8)(21.4,5.5)(21.5,6.2)(21.6,6.5)(21.7,5.4)(21.8,5.0)(21.9,5.8)(22.0,6.1)(22.1,5.3)(22.2,5.6)(22.3,6.5)(22.4,6.2)(22.5,5.1)(22.6,4.8)(22.7,5.6)(22.8,5.9)(22.9,5.0)(23.0,5.3)(23.1,6.1)(23.2,5.8)(23.3,4.9)(23.4,4.7)(23.5,5.4)(23.6,5.6)(23.7,4.8)(23.8,5.1)(23.9,5.9)(24.0,5.7)(24.1,4.9)(24.2,4.5)(24.3,5.2)(24.4,5.6)(24.5,4.7)(24.6,4.9)(24.7,5.5)(24.8,5.2)(24.9,4.6)(25.0,4.2)(25.1,4.9)(25.2,5.1)(25.3,4.4)(25.4,4.3)(25.5,5.0)(25.6,4.8)(25.7,4.1)(25.8,3.8)(25.9,4.5)(26.0,4.8)(26.1,4.2)(26.2,4.0)(26.3,4.7)(26.4,4.5)(26.5,3.9)(26.6,3.6)(26.7,4.3)(26.8,4.5)(26.9,3.9)(27.0,3.8)(27.1,4.4)(27.2,4.6)(27.3,3.8)(27.4,3.4)(27.5,4.0)(27.6,4.3)(27.7,3.7)(27.8,3.9)(27.9,4.5)(28.0,5.0)(28.1,4.0)(28.2,3.3)(28.3,3.8)(28.4,4.1)(28.5,3.6)(28.6,3.4)(28.7,4.0)(28.8,4.2)(28.9,3.5)(29.0,3.1)(29.1,3.7)(29.2,4.0)(29.3,3.3)(29.4,2.5)(29.5,3.3)(29.6,3.7)(29.7,3.1)(29.8,3.3)(29.9,3.9)(30.0,3.7)(30.1,3.2)(30.2,2.9)(30.3,3.4)(30.4,3.7)(30.5,3.2)(30.6,3.0)(30.7,3.5)(30.8,3.8)(30.9,3.1)(31.0,2.8)(31.1,3.3)(31.2,3.6)(31.3,3.1)(31.4,2.9)(31.5,3.4)(31.6,3.7)(31.7,3.0)(31.8,2.6)(31.9,3.1)(32.0,3.3)
(32.1,7)(32.2,12)(32.3,5)(32.4,3.4)(32.6,2.8)(32.8,4.5)(32.9,60)(33.0,105)(33.1,40)(33.2,6.0)(33.4,4.8)(33.6,3.6)(33.8,4.2)(34.0,2.5)(34.2,3.1)(34.4,2.0)(34.6,2.8)(34.8,1.8)(35.0,2.6)(35.2,2.2)(35.4,2.9)(35.6,1.7)(35.8,2.5)(36.0,2.1)(36.2,2.8)(36.4,2.3)(36.6,3.0)(36.8,2.6)(37.0,3.3)(37.2,2.9)(37.4,3.6)(37.6,3.2)(37.8,4.0)(38.0,4.4)(38.2,3.8)(38.4,4.6)(38.6,5.2)(38.8,4.1)(39.0,4.6)(39.2,3.3)(39.4,2.6)(39.6,3.4)(39.8,4.5)(40.0,5.6)(40.2,5.0)(40.4,4.6)(40.6,3.6)(40.8,3.0)(41.0,2.4)(41.2,2.8)(41.4,2.0)(41.6,2.4)(41.8,1.8)(42.0,1.2)(42.2,0.8)(42.4,1.6)(42.6,1.3)(42.8,1.8)(43.0,1.4)(43.2,1.9)(43.4,1.6)(43.6,2.2)(43.8,1.8)(44.0,2.4)(44.2,2.1)(44.4,2.7)(44.6,2.9)(44.8,3.3)(45.0,3.5)(45.2,2.6)(45.4,1.8)(45.6,2.2)(45.8,1.5)(46.0,1.9)(46.2,1.4)(46.4,1.8)(46.6,2.3)(46.8,2.8)(47.0,1.6)(47.2,1.2)(47.4,1.7)(47.6,1.3)(47.8,1.6)
(48.0,1.2)(48.1,1.6)(48.2,1.0)(48.3,1.4)(48.4,0.8)(48.5,1.3)(48.6,1.7)(48.7,1.1)(48.8,1.4)(48.9,0.9)(49.0,1.6)(49.1,1.2)(49.2,0.7)(49.3,1.3)(49.4,1.0)(49.5,1.6)(49.6,1.1)(49.7,1.4)(49.8,0.9)(49.9,1.5)(50.0,1.2)(50.1,0.8)(50.2,0.6)(50.3,1.3)(50.4,1.1)(50.5,1.6)(50.6,1.0)(50.7,1.4)(50.8,1.2)(50.9,0.8)(51.0,1.3)(51.1,1.0)(51.2,1.5)(51.3,0.9)(51.4,1.2)(51.5,1.7)(51.6,1.0)(51.7,1.4)(51.8,1.1)(51.9,0.7)(52.0,1.3)(52.1,1.0)(52.2,1.5)(52.3,1.2)(52.4,0.9)(52.5,1.4)(52.6,1.7)(52.7,1.0)(52.8,1.3)(52.9,0.8)(53.0,1.2)(53.1,1.0)(53.2,0.6)(53.3,1.3)(53.4,1.1)(53.5,1.6)(53.6,1.0)(53.7,1.3)(53.8,0.9)(53.9,1.4)(54.0,1.1)(54.1,1.5)(54.2,0.8)(54.3,1.2)(54.4,1.0)(54.5,1.4)(54.6,0.9)(54.7,1.3)(54.8,1.6)(54.9,1.0)(55.0,1.2)(55.1,0.8)(55.2,1.3)(55.3,1.0)(55.4,0.55)(55.5,1.2)(55.6,1.0)(55.7,1.4)(55.8,1.1)(55.9,1.6)(56.0,0.9)(56.1,1.3)(56.2,1.1)(56.3,1.5)(56.4,1.0)(56.5,1.3)(56.6,1.7)(56.7,1.0)(56.8,1.2)(56.9,0.8)(57.0,1.3)(57.1,1.0)(57.2,1.4)(57.3,0.9)(57.4,1.5)(57.5,1.1)(57.6,1.3)(57.7,0.9)(57.8,0.7)(57.9,1.2)(58.0,1.4)(58.1,1.0)(58.2,1.3)(58.3,0.9)(58.4,1.6)(58.5,1.1)(58.6,1.3)(58.7,0.8)(58.8,1.2)(58.9,1.0)(59.0,1.4)(59.1,0.9)(59.2,1.5)(59.3,1.2)(59.4,1.0)(59.5,1.6)(59.6,1.3)(59.7,1.9)(59.8,1.1)(59.9,1.4)(60.0,1.5)};
\end{axis}
% ---------------- annotations ----------------
\begin{scope}[every node/.style={font=\fontsize{17}{17}\selectfont, inner sep=0pt}]
\node[rotate=90] at (128pt,-50pt) {L1\textsubscript{0} (001)};
\node at (230pt,-62pt) {Si};
\node[rotate=90] at (328pt,-54pt) {A1 (111)};
\node[rotate=90] at (365pt,-42pt) {A1 (200)};
\node[anchor=base east] at (498pt,-37pt) {H\textsubscript{2} 700 °C};
\node[anchor=base east] at (500pt,-228pt) {H\textsubscript{2} 650 °C};
\node[anchor=base east] at (498pt,-377pt) {H\textsubscript{2} 600 °C};
\node[anchor=base east] at (503pt,-520pt) {Після осадження};
\node[rotate=90] at (262pt,-555pt) {Ag(111)};
\node[rotate=90] at (294pt,-550pt) {Pd(111)};
\node[rotate=90] at (358pt,-570pt) {Fe(111.0)};
\node[rotate=90] at (678pt,-52pt) {L1\textsubscript{0}(001)};
\node at (773pt,-28pt) {Si};
\node[rotate=90] at (876pt,-46pt) {A1 (111)};
\node[rotate=90] at (917pt,-64pt) {A1 (200)};
\node[anchor=base east] at (1048pt,-37pt) {H\textsubscript{2} 700 °C};
\node[anchor=base east] at (1049pt,-228pt) {H\textsubscript{2} 650 °C};
\node[anchor=base east] at (1047pt,-377pt) {H\textsubscript{2} 600 °C};
\node[anchor=base east] at (1053pt,-520pt) {Після осадження};
\node[rotate=90] at (811pt,-555pt) {Ag(111)};
\node[rotate=90] at (843pt,-556pt) {Pd(111)};
\node[rotate=90] at (906pt,-570pt) {Fe(111.0)};
\end{scope}
\begin{scope}[every node/.style={font=\fontsize{33}{33}\selectfont, inner sep=0pt}]
\node[rotate=90] at (29pt,-328pt) {Інтенсивність, імп/с};
\node[rotate=90] at (579pt,-328pt) {Інтенсивність, імп/с};
\end{scope}
\begin{scope}[every node/.style={font=\fontsize{34}{34}\selectfont, inner sep=0pt}]
\node[anchor=base] at (285.5pt,-710pt) {Кут дифракції \textit{2θ}, град};
\node[anchor=base] at (835pt,-710pt) {Кут дифракції \textit{2θ}, град};
\end{scope}
\begin{scope}[every node/.style={font=\fontsize{30}{30}\selectfont, inner sep=0pt}]
\node[anchor=base] at (264pt,-787pt) {а)};
\node[anchor=base] at (808pt,-787pt) {б)};
\end{scope}
\end{tikzpicture}
\end{document}
